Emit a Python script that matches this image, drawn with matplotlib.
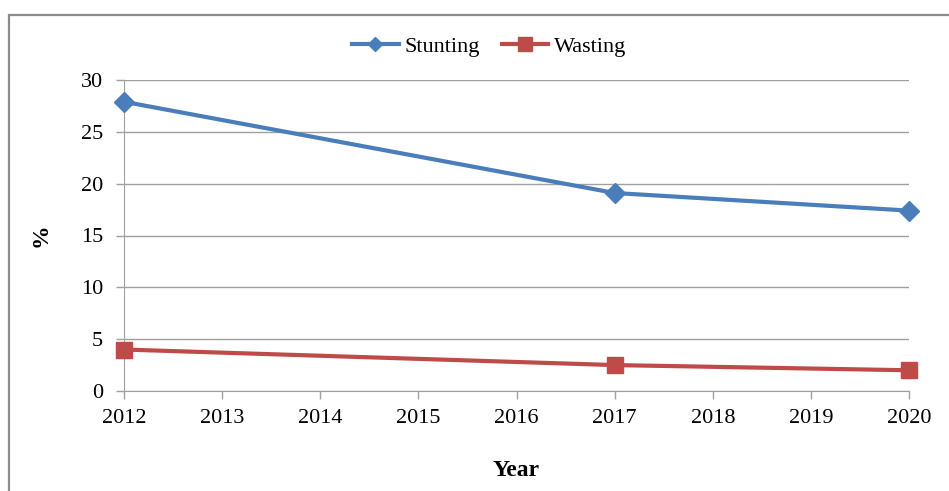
import matplotlib.pyplot as plt
from matplotlib.lines import Line2D
from matplotlib.patches import Rectangle

plt.rcParams['font.family'] = ['Liberation Serif', 'DejaVu Serif']

# data
years = [2012, 2017, 2020]
stunting = [27.9, 19.1, 17.4]
wasting = [4.0, 2.5, 2.0]
x_ticks = list(range(2012, 2021))
y_ticks = [0, 5, 10, 15, 20, 25, 30]

blue = '#4A7EBB'
red = '#BE4B48'
grid_col = '#A0A0A0'

fig = plt.figure(figsize=(9.49, 4.91), dpi=100)
ax = fig.add_axes([124/949, 1 - 391/491, (909 - 124)/949, (391 - 80)/491])

# outer chart border (runs off the right and bottom edge like the screenshot)
fig.patches.append(Rectangle((9/949, -0.05), 1.0, 1 - 15/491 + 0.05,
                             transform=fig.transFigure, fill=False,
                             edgecolor='#8C8C8C', linewidth=1.6, clip_on=False))

ax.plot(years, stunting, color=blue, linewidth=3, marker='D', markersize=10,
        zorder=3, clip_on=False)
ax.plot(years, wasting, color=red, linewidth=3, marker='s', markersize=11,
        zorder=3, clip_on=False)

ax.set_xlim(2012, 2020)
ax.set_ylim(0, 30)
ax.set_xticks(x_ticks)
ax.set_yticks(y_ticks)
ax.tick_params(axis='both', labelsize=16, color=grid_col, length=6, width=1,
               direction='out')
ax.tick_params(axis='x', pad=7)
ax.tick_params(axis='y', pad=9)

ax.grid(axis='y', color=grid_col, linewidth=1)
ax.set_axisbelow(True)
for side in ['top', 'right']:
    ax.spines[side].set_visible(False)
ax.spines['left'].set_color(grid_col)
ax.spines['bottom'].set_color(grid_col)

ax.set_xlabel('Year', fontsize=17, fontweight='bold')
ax.xaxis.set_label_coords(0.5, -(471 - 391) / (391 - 80), transform=ax.transAxes)
ax.xaxis.label.set_va('center')
ax.set_ylabel('%', fontsize=17, fontweight='bold')
ax.yaxis.set_label_coords(-(124 - 41) / (909 - 124), 0.5, transform=ax.transAxes)
ax.yaxis.label.set_va('center')

# legend keys are drawn smaller than the plot markers, as in the original
handles = [Line2D([], [], color=blue, linewidth=3, marker='D', markersize=7),
           Line2D([], [], color=red, linewidth=3, marker='s', markersize=10)]
leg = ax.legend(handles, ['Stunting', 'Wasting'], loc='center',
                bbox_to_anchor=(489/949, 1 - 47/491),
                bbox_transform=fig.transFigure, ncol=2, frameon=False,
                fontsize=16, handlelength=2.1, columnspacing=1.0,
                handletextpad=0.25)

fig.savefig('out.png', dpi=100)
